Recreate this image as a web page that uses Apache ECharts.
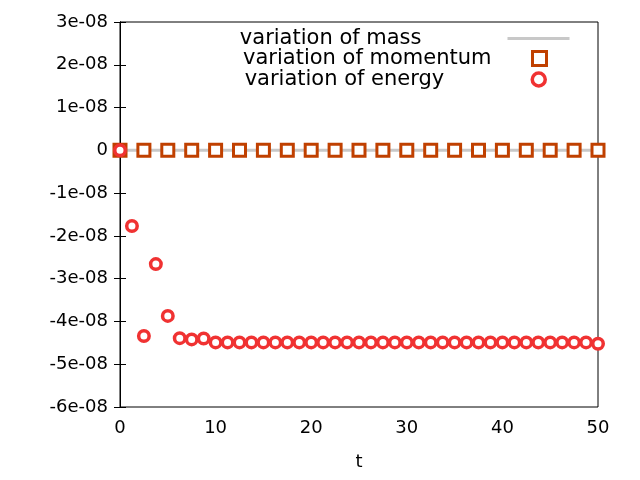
<!DOCTYPE html>
<html>
<head>
<meta charset="utf-8">
<script src="https://cdn.jsdelivr.net/npm/echarts@6/dist/echarts.min.js"></script>
<style>
  html, body { margin: 0; padding: 0; background: #fff; }
  #chart { width: 640px; height: 480px; }
</style>
</head>
<body>
<div id="chart"></div>
<script>
var seriesNames = ['variation of mass', 'variation of momentum', 'variation of energy'];

// t samples of the momentum / mass curves
var tMomentum = [0, 2.5, 5, 7.5, 10, 12.5, 15, 17.5, 20, 22.5, 25, 27.5, 30,
  32.5, 35, 37.5, 40, 42.5, 45, 47.5, 50];
var massValues = [0, 0, 0, 0, 0, 0, 0, 0, 0, 0, 0, 0, 0, 0, 0, 0, 0, 0, 0, 0, 0];
var momentumValues = [0, 0, 0, 0, 0, 0, 0, 0, 0, 0, 0, 0, 0, 0, 0, 0, 0, 0, 0, 0, 0];

// t samples of the energy curve
var tEnergy = [0, 1.25, 2.5, 3.75, 5, 6.25, 7.5, 8.75, 10, 11.25, 12.5, 13.75, 15,
  16.25, 17.5, 18.75, 20, 21.25, 22.5, 23.75, 25, 26.25, 27.5, 28.75, 30,
  31.25, 32.5, 33.75, 35, 36.25, 37.5, 38.75, 40, 41.25, 42.5, 43.75, 45,
  46.25, 47.5, 48.75, 50];
// energy variation, in units of 1e-08
var energyValues = [0, -1.77, -4.34, -2.66, -3.87, -4.39, -4.42, -4.40, -4.49, -4.49,
  -4.49, -4.49, -4.49, -4.49, -4.49, -4.49, -4.49, -4.49, -4.49, -4.49,
  -4.49, -4.49, -4.49, -4.49, -4.49, -4.49, -4.49, -4.49, -4.49, -4.49,
  -4.49, -4.49, -4.49, -4.49, -4.49, -4.49, -4.49, -4.49, -4.49, -4.49, -4.52];

function pairs(xs, ys, scale) {
  return xs.map(function (x, i) { return [x, ys[i] * scale]; });
}

function sciLabel(v) {
  var n = Math.round(v * 1e8);
  if (n === 0) return '0';
  return n + 'e-08';
}

var font = 'DejaVu Sans';
var black = '#000';

// one legend per row, anchored on the right so the samples line up
// in a column like gnuplot's key; padding leaves the gap before the sample
function keyRow(item, right, top, gap, iconW, iconH) {
  return {
    data: [item],
    orient: 'vertical', align: 'right', right: right, top: top, padding: 0,
    itemWidth: iconW, itemHeight: iconH, selectedMode: false,
    textStyle: { fontFamily: font, fontSize: 21, color: black, padding: [0, gap, 0, 0] }
  };
}

var myChart = echarts.init(document.getElementById('chart'));
var option = {
  backgroundColor: '#fff',
  animation: false,
  grid: {
    left: 120, right: 42, top: 22, bottom: 73,
    show: true, borderColor: black, borderWidth: 1
  },
  legend: [
    keyRow({ name: seriesNames[0], itemStyle: { opacity: 0 },
      lineStyle: { color: '#c8c8c8', width: 3 } }, 69, 28, 81, 62, 14),
    keyRow({ name: seriesNames[1], icon: 'rect',
      itemStyle: { color: '#fff', borderColor: '#c04000', borderWidth: 3 } }, 92, 48, 36, 14, 14),
    keyRow({ name: seriesNames[2], icon: 'circle',
      itemStyle: { color: '#fff', borderColor: '#f03232', borderWidth: 3.5 } }, 93, 69, 83, 13, 13)
  ],
  xAxis: [
    {
      type: 'value', min: 0, max: 50, interval: 10,
      name: 't', nameLocation: 'middle', nameGap: 46,
      nameTextStyle: { fontFamily: font, fontSize: 18, color: black },
      axisLine: { show: true, lineStyle: { color: black, width: 1 } },
      axisTick: { inside: true, length: 6, lineStyle: { color: black } },
      axisLabel: { fontFamily: font, fontSize: 18, color: black, margin: 12 },
      splitLine: { show: false }
    },
    {
      type: 'value', position: 'top', min: 0, max: 50, interval: 10,
      axisLine: { show: true, lineStyle: { color: black, width: 1 } },
      axisTick: { inside: true, length: 6, lineStyle: { color: black } },
      axisLabel: { show: false },
      splitLine: { show: false }
    }
  ],
  yAxis: [
    {
      type: 'value', min: -6e-8, max: 3e-8, interval: 1e-8,
      axisLine: { show: true, lineStyle: { color: black, width: 1 } },
      axisTick: { inside: true, length: 6, lineStyle: { color: black } },
      axisLabel: { fontFamily: font, fontSize: 18, color: black, margin: 12,
        formatter: sciLabel },
      splitLine: { show: false }
    },
    {
      type: 'value', position: 'right', min: -6e-8, max: 3e-8, interval: 1e-8,
      axisLine: { show: true, lineStyle: { color: black, width: 1 } },
      axisTick: { inside: true, length: 6, lineStyle: { color: black } },
      axisLabel: { show: false },
      splitLine: { show: false }
    }
  ],
  series: [
    {
      name: seriesNames[0], type: 'line', symbol: 'none',
      data: pairs(tMomentum, massValues, 1e-8),
      lineStyle: { color: '#c8c8c8', width: 3 },
      itemStyle: { color: '#c8c8c8' },
      z: 1
    },
    {
      name: seriesNames[1], type: 'scatter', symbol: 'rect', symbolSize: 12,
      data: pairs(tMomentum, momentumValues, 1e-8),
      itemStyle: { color: '#fff', borderColor: '#c04000', borderWidth: 3, opacity: 1 },
      z: 2
    },
    {
      name: seriesNames[2], type: 'scatter', symbol: 'circle', symbolSize: 10.5,
      data: pairs(tEnergy, energyValues, 1e-8),
      itemStyle: { color: '#fff', borderColor: '#f03232', borderWidth: 3.5, opacity: 1 },
      z: 3
    }
  ]
};

myChart.setOption(option);
</script>
</body>
</html>
